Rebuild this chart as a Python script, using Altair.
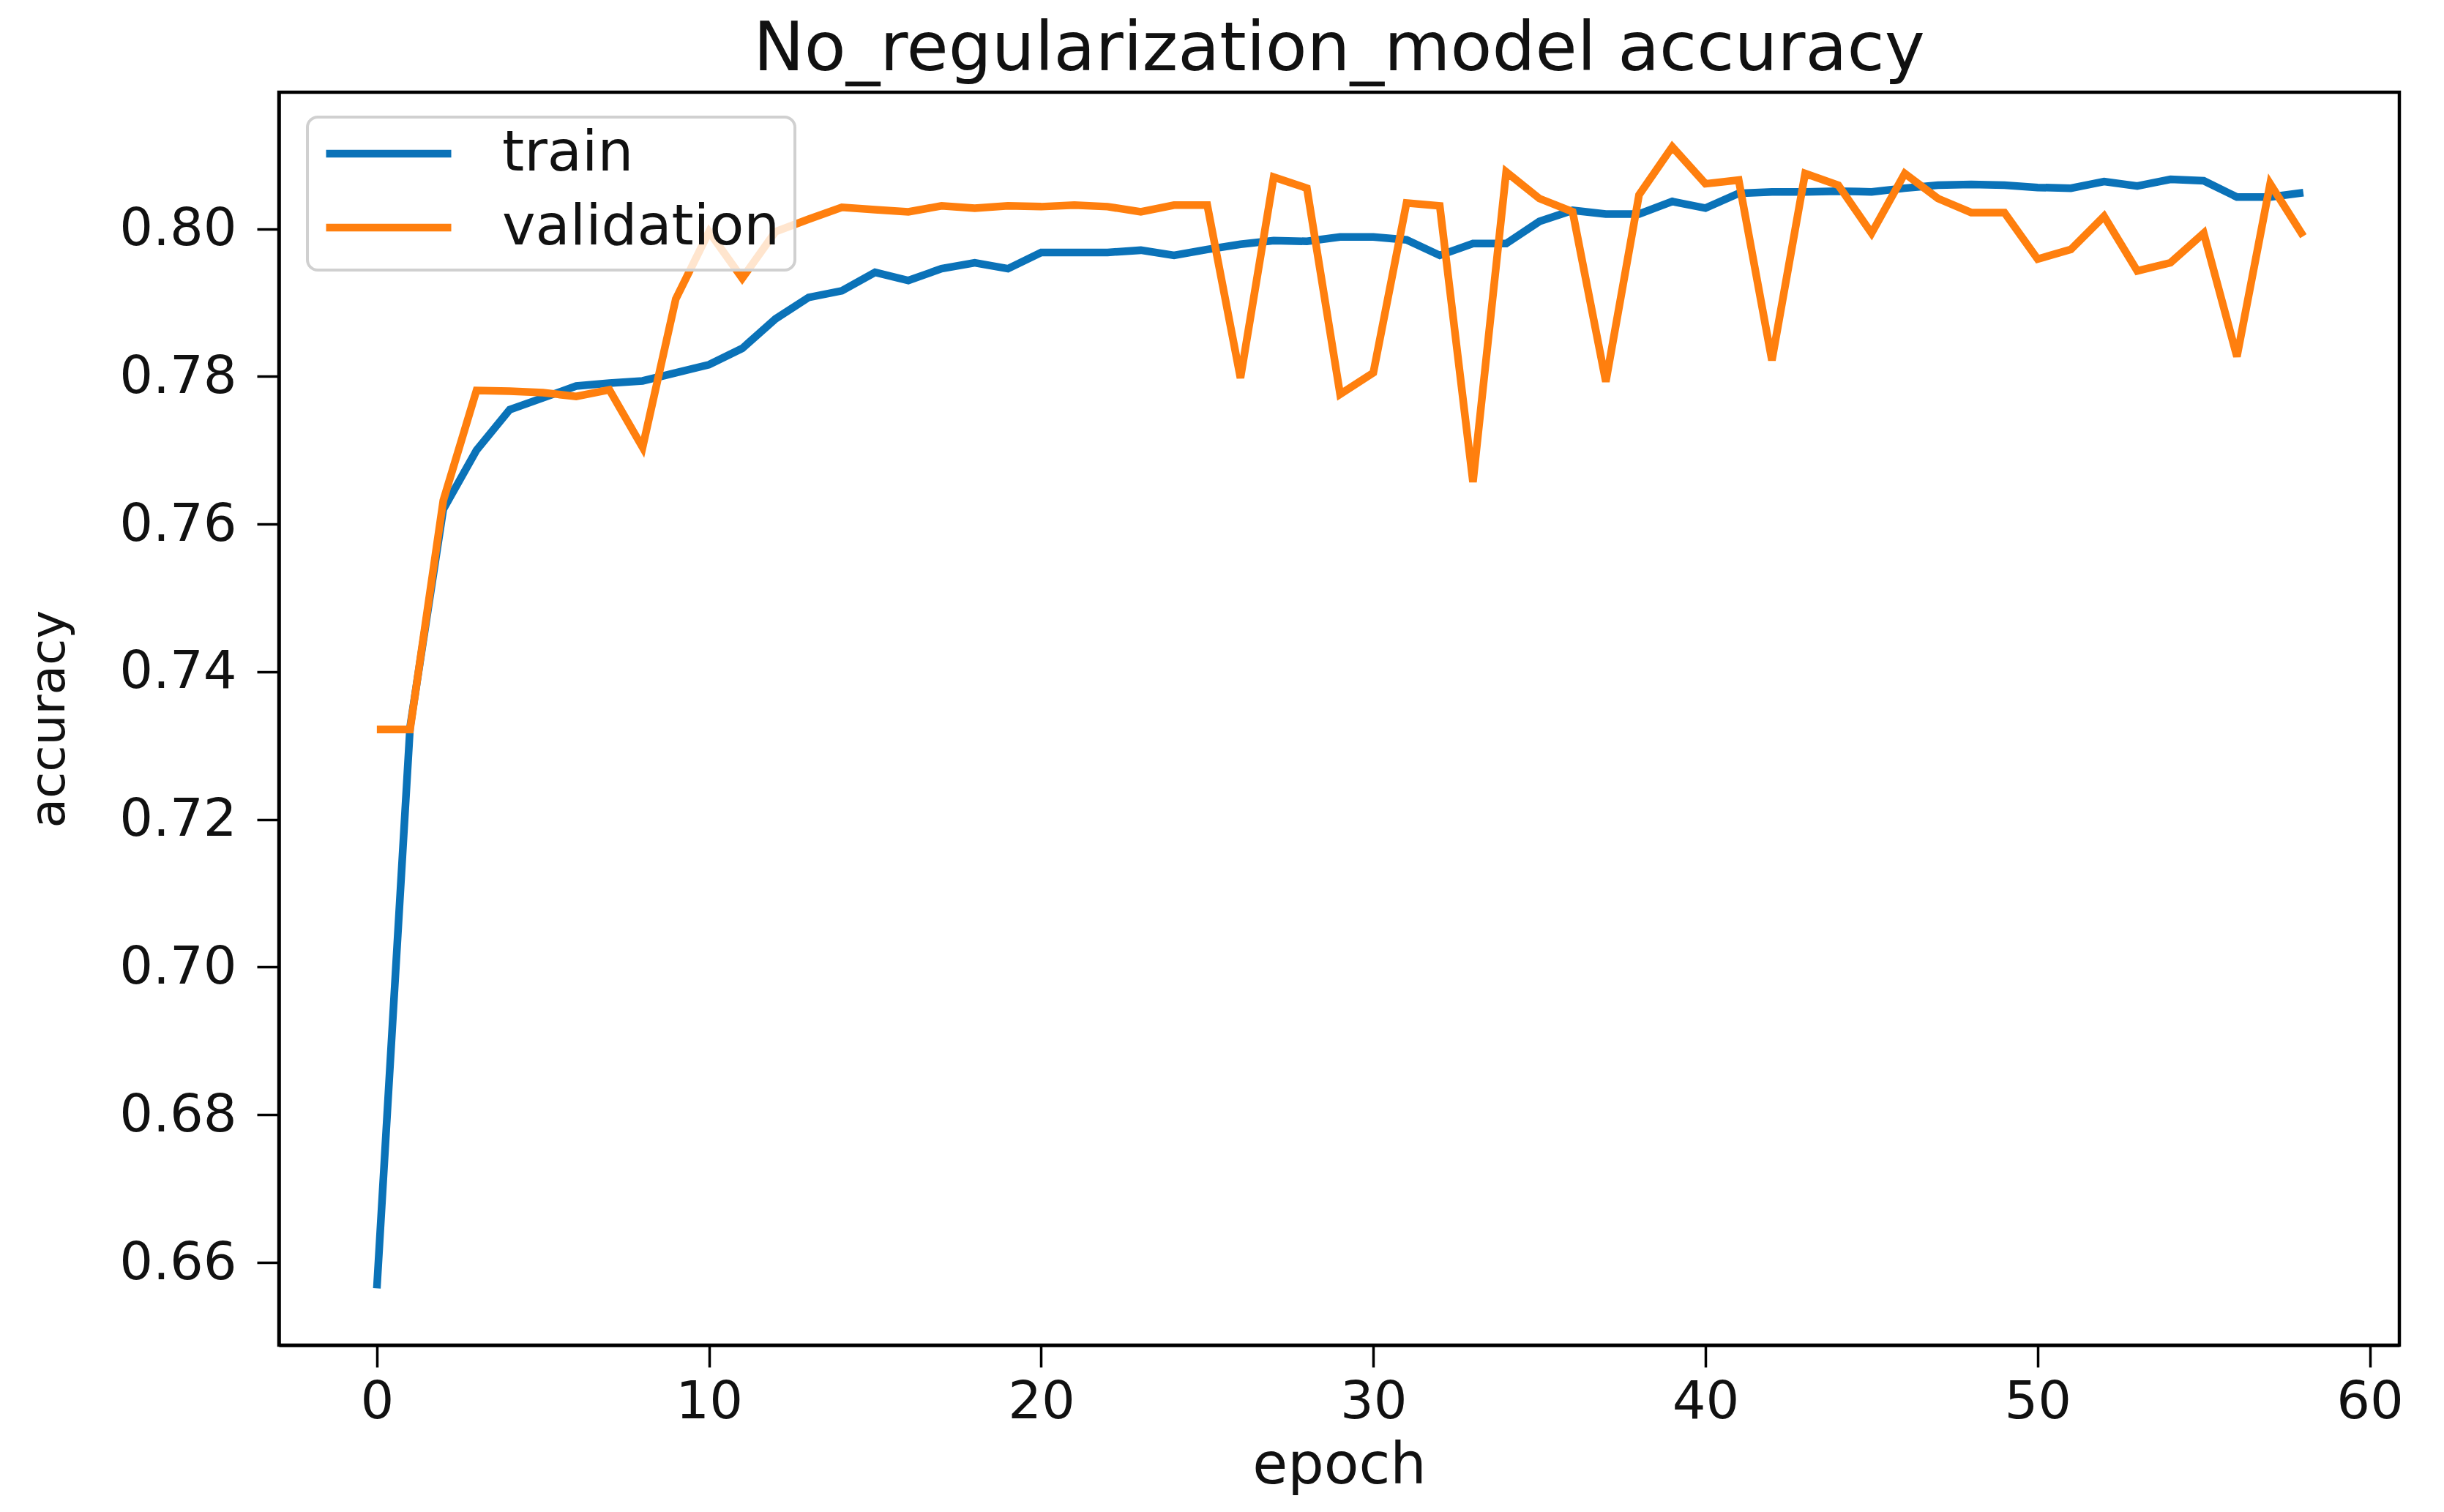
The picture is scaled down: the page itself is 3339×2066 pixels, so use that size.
import altair as alt
import pandas as pd

epochs = list(range(59))

train = [0.6565, 0.7325, 0.7620, 0.7700, 0.7755, 0.7771, 0.7787, 0.7791, 0.7794, 0.7805,
         0.7816, 0.7838, 0.7878, 0.7907, 0.7916, 0.7941, 0.7930, 0.7946, 0.7954, 0.7946,
         0.7968, 0.7968, 0.7968, 0.7971, 0.7964, 0.7972, 0.7979, 0.7984, 0.7983, 0.7989,
         0.7989, 0.7985, 0.7964, 0.7980, 0.7980, 0.8010, 0.8025, 0.8020, 0.8020, 0.8037,
         0.8028, 0.8048, 0.8050, 0.8050, 0.8051, 0.8050, 0.8055, 0.8059, 0.8060, 0.8059,
         0.8056, 0.8055, 0.8064, 0.8058, 0.8067, 0.8065, 0.8043, 0.8043, 0.8049]

validation = [0.7322, 0.7322, 0.7632, 0.7781, 0.7780, 0.7778, 0.7773, 0.7782, 0.7704, 0.7905,
              0.7996, 0.7933, 0.7996, 0.8013, 0.8029, 0.8026, 0.8023, 0.8031, 0.8028, 0.8031,
              0.8030, 0.8032, 0.8030, 0.8023, 0.8032, 0.8032, 0.7798, 0.8070, 0.8055, 0.7776,
              0.7805, 0.8035, 0.8031, 0.7657, 0.8077, 0.8041, 0.8023, 0.7793, 0.8046, 0.8111,
              0.8061, 0.8066, 0.7822, 0.8075, 0.8059, 0.7994, 0.8075, 0.8041, 0.8022, 0.8022,
              0.7959, 0.7972, 0.8017, 0.7943, 0.7954, 0.7994, 0.7827, 0.8061, 0.7990]

series_names = ["train", "validation"]
series_colors = ["#0a72b8", "#ff7f0e"]

x_ticks = [0, 10, 20, 30, 40, 50, 60]
y_ticks = [0.66, 0.68, 0.70, 0.72, 0.74, 0.76, 0.78, 0.80]

rows = []
for e, v in zip(epochs, train):
    rows.append({"epoch": e, "accuracy": v, "series": "train"})
for e, v in zip(epochs, validation):
    rows.append({"epoch": e, "accuracy": v, "series": "validation"})
df = pd.DataFrame(rows)

FONT = "DejaVu Sans"

chart = alt.Chart(df).mark_line(strokeWidth=10.5, strokeJoin="miter", clip=True).encode(
    x=alt.X("epoch:Q",
            scale=alt.Scale(domain=[-2.95, 60.89], nice=False, zero=False),
            axis=alt.Axis(values=x_ticks, title="epoch", format="d",
                          labelPadding=12, titlePadding=13, titleFontSize=78)),
    y=alt.Y("accuracy:Q",
            scale=alt.Scale(domain=[0.6488, 0.8185], nice=False, zero=False),
            axis=alt.Axis(values=y_ticks, title="accuracy", format=".2f",
                          labelPadding=28, titlePadding=80, titleFontSize=66)),
    color=alt.Color("series:N",
                    scale=alt.Scale(domain=series_names, range=series_colors),
                    legend=alt.Legend(title=None, orient="none", legendX=39, legendY=34,
                                      symbolType="stroke", symbolSize=29241,
                                      symbolStrokeWidth=10.5, clipHeight=60,
                                      rowPadding=24, labelOffset=64, padding=20,
                                      labelFontSize=77, labelFont=FONT, labelLimit=800,
                                      labelColor="#111111",
                                      fillColor="rgba(255,255,255,0.8)",
                                      strokeColor="#d0d0d0", cornerRadius=14)),
    order=alt.Order("epoch:Q"),
).properties(
    width=2897,
    height=1712,
    background="white",
    autosize=alt.AutoSizeParams(type="none"),
    padding={"left": 373, "top": 118, "right": 45, "bottom": 210},
    title=alt.Title("No_regularization_model accuracy", fontSize=93, font=FONT,
                    fontWeight="normal", color="#111111", offset=10, anchor="middle"),
).configure_view(
    stroke="black", strokeWidth=4.5
).configure_axis(
    grid=False,
    domainColor="black", domainWidth=4.5,
    tickColor="black", tickWidth=3.5, tickSize=30,
    labelFont=FONT, labelFontSize=72, labelColor="#111111",
    titleFont=FONT, titleFontWeight="normal", titleColor="#111111",
).configure_legend(
    strokeWidth=4
)

chart.save("out.html", embed_options={"renderer": "svg", "actions": False})
